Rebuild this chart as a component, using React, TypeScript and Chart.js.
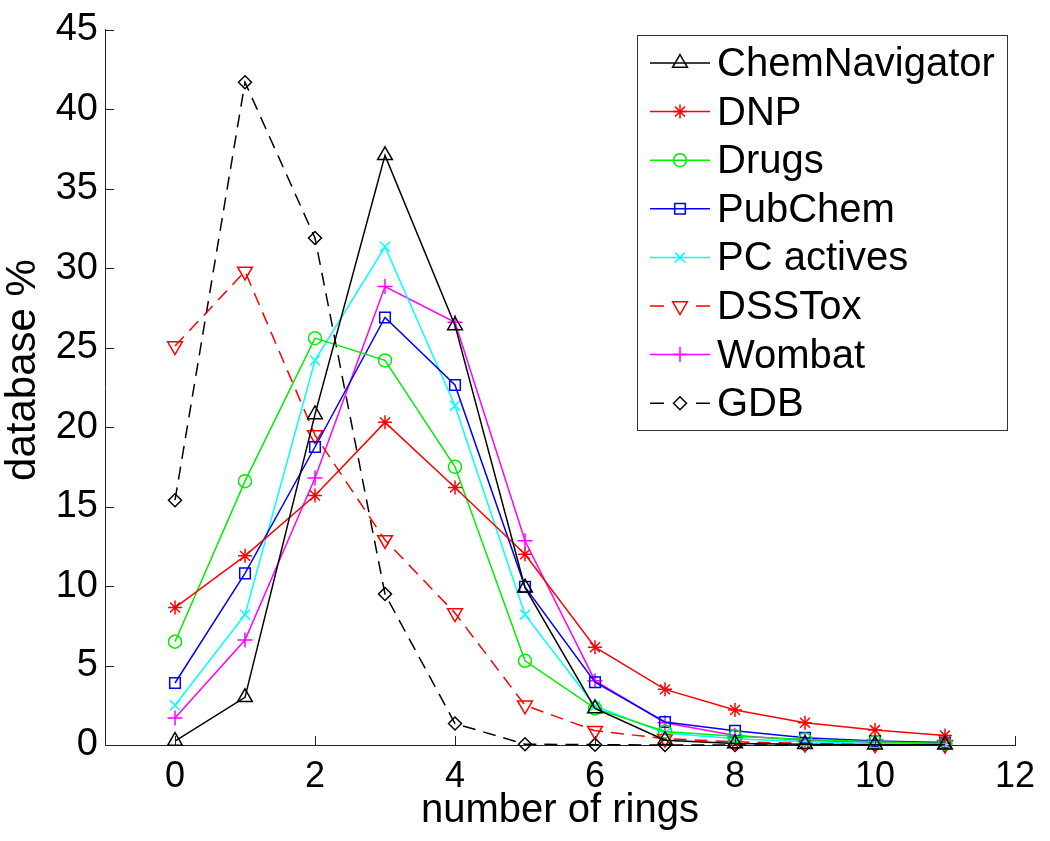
import React, { useEffect, useRef } from "react";
import { Chart, registerables } from "chart.js";
import { drawPoint } from "chart.js/helpers";

Chart.register(...registerables);

const rings = [0, 1, 2, 3, 4, 5, 6, 7, 8, 9, 10, 11];
const xTicks = [0, 2, 4, 6, 8, 10, 12];
const yTicks = [0, 5, 10, 15, 20, 25, 30, 35, 40, 45];

const chemNavigator = [0.25, 3.0, 20.8, 37.1, 26.4, 9.9, 2.3, 0.3, 0.1, 0.05, 0.02, 0.01];
const dnp = [8.65, 11.9, 15.7, 20.3, 16.2, 12.0, 6.15, 3.5, 2.2, 1.4, 0.94, 0.6];
const drugs = [6.5, 16.6, 25.6, 24.2, 17.5, 5.3, 2.3, 0.85, 0.55, 0.35, 0.2, 0.1];
const pubChem = [3.9, 10.8, 18.75, 26.9, 22.65, 9.95, 3.95, 1.45, 0.9, 0.45, 0.25, 0.15];
const pcActives = [2.5, 8.2, 24.2, 31.35, 21.35, 8.2, 2.45, 0.75, 0.4, 0.2, 0.1, 0.05];
const dssTox = [25.1, 29.8, 19.5, 12.9, 8.3, 2.5, 0.9, 0.4, 0.2, 0.1, 0.05, 0.02];
const wombat = [1.7, 6.6, 16.8, 28.85, 26.6, 12.85, 4.05, 1.4, 0.6, 0.3, 0.15, 0.1];
const gdb = [15.4, 41.7, 31.9, 9.5, 1.35, 0.05, 0.02, 0, 0, 0, 0, 0];

const yTitle = "database %";
const xTitle = "number of rings";

const FONT = "'Liberation Sans', Arial, sans-serif";

type SeriesDef = {
  label: string;
  values: number[];
  color: string;
  style: string;
  rotation: number;
  radius: number;
  dash: number[];
};

const series: SeriesDef[] = [
  { label: "ChemNavigator", values: chemNavigator, color: "#000000", style: "triangle", rotation: 0, radius: 8.5, dash: [] },
  { label: "DNP", values: dnp, color: "#ff0000", style: "star", rotation: 0, radius: 7, dash: [] },
  { label: "Drugs", values: drugs, color: "#00ee00", style: "circle", rotation: 0, radius: 6.5, dash: [] },
  { label: "PubChem", values: pubChem, color: "#0000ff", style: "rect", rotation: 0, radius: 7.5, dash: [] },
  { label: "PC actives", values: pcActives, color: "#00ffff", style: "crossRot", rotation: 0, radius: 7, dash: [] },
  { label: "DSSTox", values: dssTox, color: "#ff0000", style: "triangle", rotation: 180, radius: 8.5, dash: [13, 8] },
  { label: "Wombat", values: wombat, color: "#ff00ff", style: "cross", rotation: 0, radius: 7.5, dash: [] },
  { label: "GDB", values: gdb, color: "#000000", style: "rectRot", rotation: 0, radius: 6.5, dash: [13, 8] },
];

const axesPlugin = {
  id: "matlabAxes",
  afterDraw(chart: any) {
    const ctx = chart.ctx;
    const xs = chart.scales.x;
    const ys = chart.scales.y;
    const ca = chart.chartArea;
    ctx.save();
    ctx.strokeStyle = "#222";
    ctx.lineWidth = 1;
    ctx.setLineDash([]);
    ctx.beginPath();
    for (const v of yTicks) {
      const py = Math.round(ys.getPixelForValue(v)) + 0.5;
      ctx.moveTo(ca.left, py);
      ctx.lineTo(ca.left + 9, py);
    }
    for (const v of xTicks) {
      const px = Math.round(xs.getPixelForValue(v)) + 0.5;
      ctx.moveTo(px, ca.bottom);
      ctx.lineTo(px, ca.bottom - 9);
    }
    ctx.stroke();

    // y-axis title
    ctx.save();
    ctx.translate(35, 370);
    ctx.rotate(-Math.PI / 2);
    ctx.font = "42px " + FONT;
    ctx.fillStyle = "#000";
    ctx.textAlign = "center";
    ctx.textBaseline = "alphabetic";
    ctx.fillText(yTitle, 0, 0);
    ctx.restore();

    // legend
    const bx = 637.5, by = 35.5, bw = 370, bh = 395;
    ctx.fillStyle = "#ffffff";
    ctx.fillRect(bx, by, bw, bh);
    ctx.strokeStyle = "#333";
    ctx.lineWidth = 1;
    ctx.strokeRect(bx, by, bw, bh);
    ctx.font = "40px " + FONT;
    ctx.textBaseline = "middle";
    ctx.textAlign = "left";
    series.forEach((s, i) => {
      const cy = 63 + i * 48.6;
      ctx.strokeStyle = s.color;
      ctx.lineWidth = 1.5;
      ctx.setLineDash([]);
      ctx.beginPath();
      if (s.dash.length) {
        ctx.moveTo(650, cy);
        ctx.lineTo(664, cy);
        ctx.moveTo(696, cy);
        ctx.lineTo(710, cy);
      } else {
        ctx.moveTo(650, cy);
        ctx.lineTo(710, cy);
      }
      ctx.stroke();
      ctx.fillStyle = "rgba(0,0,0,0)";
      drawPoint(ctx, { pointStyle: s.style, rotation: s.rotation, radius: s.radius, borderWidth: 1.5 } as any, 680, cy);
      ctx.fillStyle = "#000";
      ctx.fillText(s.label, 717, cy + 2);
    });
    ctx.restore();
  },
};

export default function App() {
  const ref = useRef<HTMLCanvasElement | null>(null);
  useEffect(() => {
    if (!ref.current) return;
    const chart = new Chart(ref.current, {
      type: "line",
      data: {
        datasets: series.map((s) => ({
          label: s.label,
          data: rings.map((r, i) => ({ x: r, y: s.values[i] })),
          borderColor: s.color,
          borderWidth: 1.5,
          borderDash: s.dash,
          pointStyle: s.style as any,
          pointRotation: s.rotation,
          pointRadius: s.radius,
          pointBorderWidth: 1.5,
          pointBorderColor: s.color,
          pointBackgroundColor: "rgba(0,0,0,0)",
          tension: 0,
          fill: false,
          clip: false as any,
        })),
      },
      options: {
        responsive: false,
        animation: false,
        events: [],
        layout: { padding: { top: 25, right: 35, left: 0, bottom: 0 } },
        plugins: { legend: { display: false }, tooltip: { enabled: false } },
        scales: {
          x: {
            type: "linear",
            min: -1,
            max: 12,
            afterBuildTicks: (scale: any) => {
              scale.ticks = xTicks.map((v) => ({ value: v }));
            },
            afterFit: (scale: any) => {
              scale.height = 96;
            },
            grid: { display: false, drawTicks: false },
            border: { display: true, color: "#222", width: 1 },
            ticks: {
              font: { family: FONT, size: 36 },
              color: "#000",
              padding: 10,
              maxRotation: 0,
              autoSkip: false,
            },
            title: {
              display: true,
              text: xTitle,
              font: { family: FONT, size: 40 },
              color: "#000",
              padding: { top: 0, bottom: 6 },
            },
          },
          y: {
            type: "linear",
            min: 0,
            max: 45,
            afterBuildTicks: (scale: any) => {
              scale.ticks = yTicks.map((v) => ({ value: v }));
            },
            afterFit: (scale: any) => {
              scale.width = 105;
            },
            grid: { display: false, drawTicks: false },
            border: { display: true, color: "#222", width: 1 },
            ticks: {
              font: { family: FONT, size: 38 },
              color: "#000",
              padding: 7,
              autoSkip: false,
            },
            title: { display: false },
          },
        },
      },
      plugins: [axesPlugin],
    });
    return () => chart.destroy();
  }, []);
  return (
    <div style={{ position: "absolute", left: 0, top: 0, width: 1050, height: 841, background: "#fff" }}>
      <canvas ref={ref} width={1050} height={841} style={{ width: 1050, height: 841, display: "block" }} />
    </div>
  );
}
